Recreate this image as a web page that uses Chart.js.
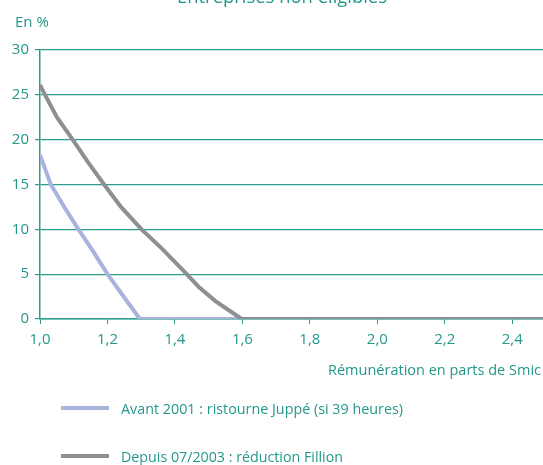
<!DOCTYPE html>
<html>
<head>
<meta charset="utf-8">
<script src="https://cdn.jsdelivr.net/npm/chart.js@4"></script>
<style>
    body { margin: 0; background: #fff; overflow: hidden; }
    #wrap { width: 546px; height: 465px; }
</style>
</head>
<body>
<div id="wrap"><canvas id="chart"></canvas></div>
<script>
const chartTitle = 'Entreprises non éligibles';
const yTitle = 'En %';
const xTitle = 'Rémunération en parts de Smic';
const seriesLabels = ['Avant 2001 : ristourne Juppé (si 39 heures)', 'Depuis 07/2003 : réduction Fillion'];

// Avant 2001 (ristourne Juppé)
const salaryAvant = [1.0, 1.032, 1.07, 1.114, 1.16, 1.2, 1.25, 1.296, 1.6];
const valuesAvant = [18.3, 15, 12.6, 10, 7.4, 5, 2.4, 0, 0];

// Depuis 07/2003 (réduction Fillion)
const salaryDepuis = [1.0, 1.015, 1.05, 1.097, 1.14, 1.19, 1.24, 1.301, 1.36, 1.435, 1.47, 1.52, 1.598, 2.5];
const valuesDepuis = [26.1, 25, 22.5, 20, 17.6, 15, 12.5, 10, 7.9, 5, 3.6, 2.0, 0, 0];

const xTicks = [1.0, 1.2, 1.4, 1.6, 1.8, 2.0, 2.2, 2.4];

const teal = '#23988a';
const lineColor = '#2c9d8e';
const colors = ['#aab3de', '#8f8f93'];
const font = '"Open Sans"';

function toPoints(xs, ys) {
    return xs.map((x, i) => ({ x: x, y: ys[i] }));
}

// draws title, axis captions and the legend
const textPlugin = {
    id: 'texts',
    afterDraw(chart) {
        const ctx = chart.ctx;
        ctx.save();
        ctx.fillStyle = teal;
        ctx.textBaseline = 'alphabetic';

        ctx.font = '19px ' + font;
        ctx.textAlign = 'center';
        ctx.fillText(chartTitle, 282, 3, 210);

        ctx.font = '15px ' + font;
        ctx.textAlign = 'left';
        ctx.fillText(yTitle, 15, 27, 34);

        ctx.textAlign = 'right';
        ctx.fillText(xTitle, 541, 375, 213);

        // legend
        const rows = [408, 456];
        const widths = [282, 222];
        ctx.textAlign = 'left';
        seriesLabels.forEach((label, i) => {
            ctx.strokeStyle = colors[i];
            ctx.lineWidth = 4;
            ctx.beginPath();
            ctx.moveTo(61, rows[i]);
            ctx.lineTo(109, rows[i]);
            ctx.stroke();
            ctx.fillStyle = teal;
            ctx.fillText(label, 121, rows[i] + 6, widths[i]);
        });
        ctx.restore();
    }
};

const ctx = document.getElementById('chart').getContext('2d');
new Chart(ctx, {
    type: 'line',
    data: {
        datasets: [
            {
                label: seriesLabels[0],
                data: toPoints(salaryAvant, valuesAvant),
                borderColor: colors[0],
                borderWidth: 4,
                pointRadius: 0,
                tension: 0,
                order: 1
            },
            {
                label: seriesLabels[1],
                data: toPoints(salaryDepuis, valuesDepuis),
                borderColor: colors[1],
                borderWidth: 4,
                pointRadius: 0,
                tension: 0,
                order: 0
            }
        ]
    },
    options: {
        responsive: true,
        maintainAspectRatio: false,
        animation: false,
        layout: { padding: { top: 50, left: 0, right: 0, bottom: 0 } },
        plugins: {
            legend: { display: false },
            tooltip: { enabled: false }
        },
        scales: {
            x: {
                type: 'linear',
                min: 1.0,
                max: 2.5,
                afterFit: function(axis) { axis.height = 146; },
                afterBuildTicks: function(axis) {
                    axis.ticks = xTicks.map(v => ({ value: v }));
                },
                ticks: {
                    color: teal,
                    font: { family: font, size: 15 },
                    padding: 7,
                    maxRotation: 0,
                    callback: function(value) {
                        return value.toFixed(1).replace('.', ',');
                    }
                },
                grid: {
                    drawOnChartArea: false,
                    drawTicks: true,
                    tickLength: 5,
                    color: lineColor
                },
                border: { color: lineColor, width: 1.5 }
            },
            y: {
                min: 0,
                max: 30,
                afterFit: function(axis) { axis.width = 40; },
                ticks: {
                    stepSize: 5,
                    color: teal,
                    font: { family: font, size: 15 },
                    padding: 6
                },
                grid: {
                    color: lineColor,
                    lineWidth: 1.2,
                    tickLength: 5
                },
                border: { color: lineColor, width: 1.5 }
            }
        }
    },
    plugins: [textPlugin]
});
</script>
</body>
</html>
